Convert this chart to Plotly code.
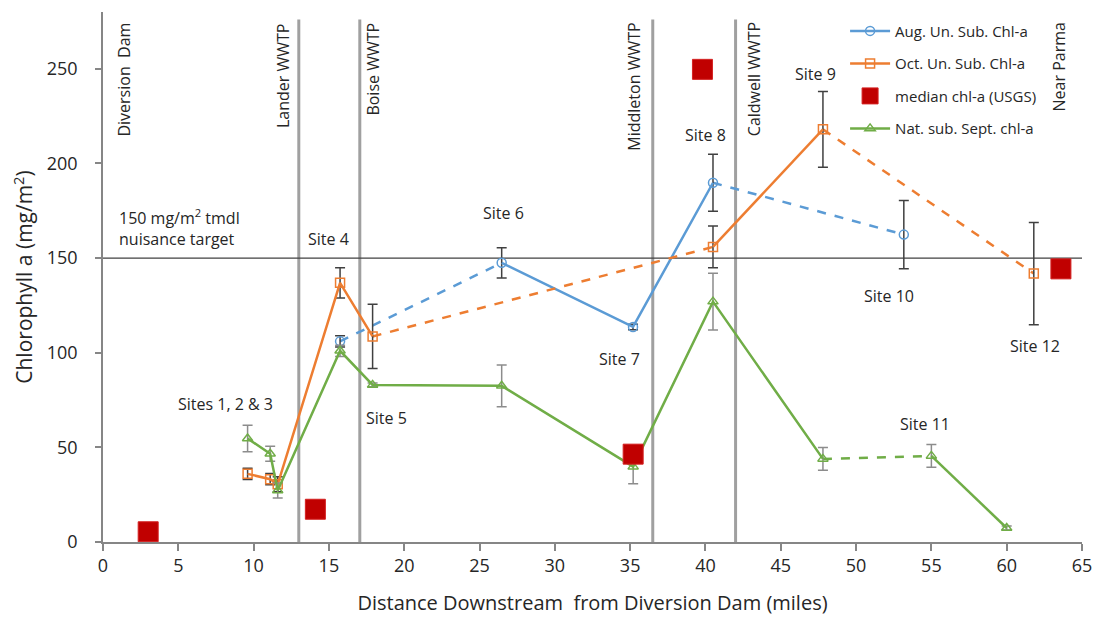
import plotly.graph_objects as go

# ---------------- data ----------------
aug_miles = [15.74, 26.47, 35.19, 40.5, 53.17]
aug_vals = [106.0, 147.5, 113.6, 189.8, 162.4]
aug_err = [3.0, 8.0, 1.5, 15.0, 18.0]
aug_dashed = [True, False, False, True]          # segment style between consecutive points

oct_miles = [9.6, 11.1, 11.6, 15.74, 17.9, 40.5, 47.8, 61.8]
oct_vals = [36.0, 33.2, 30.5, 136.9, 108.6, 155.9, 218.0, 141.8]
oct_err = [3.0, 3.0, 4.0, 8.0, 17.0, 11.0, 20.0, 27.0]
oct_dashed = [False, False, False, False, True, False, True]

nat_miles = [9.6, 11.1, 11.6, 15.74, 17.9, 26.47, 35.2, 40.5, 47.8, 55.0, 60.0]
nat_vals = [54.7, 46.6, 27.2, 101.0, 83.0, 82.5, 39.8, 127.0, 43.9, 45.5, 7.4]
nat_err = [7.0, 4.0, 4.0, 3.0, 1.0, 11.0, 9.0, 15.0, 6.0, 6.0, 1.0]
nat_dashed = [False, False, False, False, False, False, False, False, True, False]

usgs_miles = [3.0, 14.1, 35.2, 39.8, 63.6]
usgs_vals = [5.4, 17.3, 46.4, 249.7, 144.3]

wwtp_miles = [13.0, 17.05, 36.5, 42.0]
tmdl_target = 150

site_labels = ["Sites 1, 2 &amp; 3", "Site 4", "Site 5", "Site 6", "Site 7", "Site 8",
               "Site 9", "Site 10", "Site 11", "Site 12"]
site_label_x = [8.1, 15.0, 18.85, 26.6, 34.3, 40.0, 47.3, 52.2, 54.6, 61.9]
site_label_y = [73, 160, 65.5, 174, 96.5, 215, 247.5, 130, 62.5, 103.5]

place_labels = ["Diversion  Dam", "Lander WWTP", "Boise WWTP", "Middleton WWTP",
                "Caldwell WWTP", "Near Parma"]
place_label_x = [1.33, 11.95, 17.9, 35.2, 43.2, 63.5]

x_ticks = list(range(0, 66, 5))
y_ticks = list(range(0, 251, 50))

# ---------------- style ----------------
BLUE = "#5b9bd5"
ORANGE = "#ed7d31"
RED = "#c00000"
GREEN = "#70ad47"
FONT = "Open Sans"
TXT = "#262626"

fig = go.Figure()


def series_traces(name, miles, vals, errs, dashed, color, symbol, err_color, rank):
    out = []
    dx, dy = [], []
    for i, d in enumerate(dashed):
        if d:
            dx += [miles[i], miles[i + 1], None]
            dy += [vals[i], vals[i + 1], None]
    if dx:
        out.append(go.Scatter(x=dx, y=dy, mode="lines", showlegend=False,
                              legendgroup=name, hoverinfo="skip",
                              line=dict(color=color, width=2.5, dash="dash")))
    sx, sy, se = [miles[0]], [vals[0]], [errs[0]]
    for i, d in enumerate(dashed):
        if d:
            sx.append(None); sy.append(None); se.append(None)
        sx.append(miles[i + 1]); sy.append(vals[i + 1]); se.append(errs[i + 1])
    out.append(go.Scatter(
        x=sx, y=sy, mode="lines+markers", name=name, legendgroup=name,
        legendrank=rank, connectgaps=False,
        line=dict(color=color, width=2.5),
        marker=dict(symbol=symbol, size=9, color=color, line=dict(width=1.5, color=color)),
        error_y=dict(type="data", array=se, visible=True, color=err_color,
                     thickness=1.5, width=5)))
    return out


for tr in series_traces("Aug. Un. Sub. Chl-a", aug_miles, aug_vals, aug_err, aug_dashed,
                        BLUE, "circle-open", "#404040", 1):
    fig.add_trace(tr)
for tr in series_traces("Oct. Un. Sub. Chl-a", oct_miles, oct_vals, oct_err, oct_dashed,
                        ORANGE, "square-open", "#404040", 2):
    fig.add_trace(tr)
for tr in series_traces("Nat. sub. Sept. chl-a", nat_miles, nat_vals, nat_err, nat_dashed,
                        GREEN, "triangle-up-open", "#8c8c8c", 4):
    fig.add_trace(tr)

fig.add_trace(go.Scatter(x=usgs_miles, y=usgs_vals, mode="markers",
                         name="median chl-a (USGS)", legendgroup="usgs", legendrank=3,
                         marker=dict(symbol="square", size=20, color=RED,
                                     line=dict(width=1, color="#d42020"))))

# ---------------- shapes ----------------
shapes = []
for m in wwtp_miles:
    shapes.append(dict(type="line", xref="x", yref="y", x0=m, x1=m, y0=0, y1=276,
                       line=dict(color="#a0a0a0", width=3), layer="below"))
shapes.append(dict(type="line", xref="x", yref="y", x0=0, x1=65, y0=tmdl_target, y1=tmdl_target,
                   line=dict(color="#404040", width=1.2), layer="below"))

# ---------------- annotations ----------------
ann = []
for t, x, y in zip(site_labels, site_label_x, site_label_y):
    ann.append(dict(x=x, y=y, xref="x", yref="y", text=t, showarrow=False,
                    font=dict(family=FONT, size=16, color=TXT)))
for t, x in zip(place_labels, place_label_x):
    ann.append(dict(x=x, y=275.5, xref="x", yref="y", text=t, showarrow=False,
                    textangle=-90, yanchor="top",
                    font=dict(family=FONT, size=16, color=TXT)))
ann.append(dict(x=0.9, y=166, xref="x", yref="y", xanchor="left", align="left",
                text="150 mg/m<sup>2</sup> tmdl<br>nuisance target", showarrow=False,
                font=dict(family=FONT, size=16, color=TXT)))

fig.update_layout(
    width=1094, height=619,
    margin=dict(l=103, r=12, t=12, b=77, autoexpand=False),
    paper_bgcolor="white", plot_bgcolor="white",
    font=dict(family=FONT, color=TXT),
    shapes=shapes, annotations=ann,
    showlegend=True,
    legend=dict(x=0.758, y=0.995, xanchor="left", yanchor="top",
                bgcolor="rgba(0,0,0,0)", font=dict(family=FONT, size=15, color=TXT),
                tracegroupgap=10, itemwidth=40, traceorder="grouped"),
    xaxis=dict(range=[0, 65], tickvals=x_ticks, showgrid=False, zeroline=False,
               automargin=False,
               showline=True, linecolor="#868686", linewidth=1.5,
               ticks="outside", ticklen=7, tickcolor="#868686", tickwidth=1.5,
               tickfont=dict(family=FONT, size=18, color=TXT),
               title=dict(text="Distance Downstream  from Diversion Dam (miles)",
                          font=dict(family=FONT, size=20, color=TXT), standoff=20)),
    yaxis=dict(range=[0, 280], tickvals=y_ticks, showgrid=False, zeroline=False,
               automargin=False,
               showline=True, linecolor="#868686", linewidth=1.5,
               ticks="outside", ticklen=6, tickcolor="#868686", tickwidth=1.5,
               tickfont=dict(family=FONT, size=18, color=TXT),
               ticklabelstandoff=14,
               title=dict(text="Chlorophyll a (mg/m<sup>2</sup>)",
                          font=dict(family=FONT, size=21, color=TXT), standoff=8)),
)

fig.write_html("out.html")
